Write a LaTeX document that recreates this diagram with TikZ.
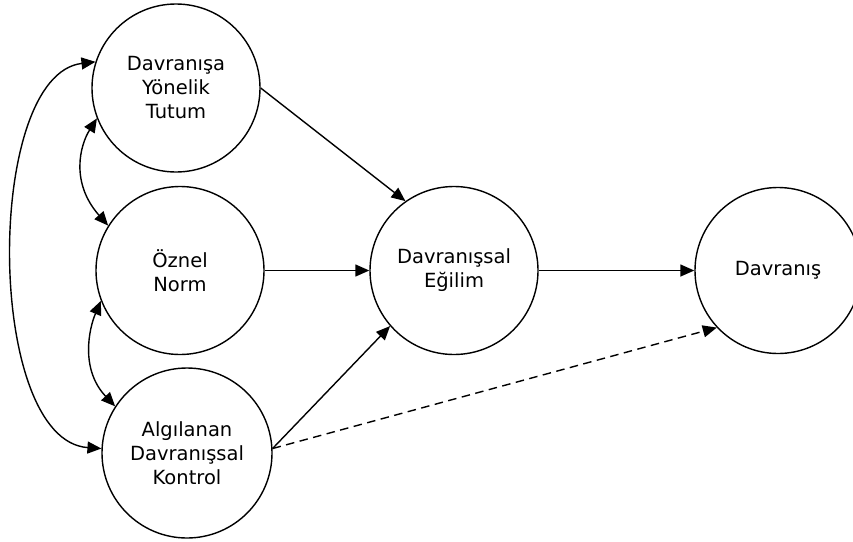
\documentclass[tikz,border=0pt]{standalone}
\usepackage{fontspec}
\setmainfont{DejaVu Sans}
\usetikzlibrary{arrows.meta}
\begin{document}
\begin{tikzpicture}[x=1pt,y=-1pt,
  construct/.style={circle,draw,line width=1.4pt,inner sep=0pt,minimum size=168pt,align=center,
    font=\fontsize{19.5}{24}\selectfont},
  conn/.style={line width=1.4pt,-{Triangle[length=14pt,width=12pt]}},
  bothconn/.style={line width=1.4pt,{Triangle[length=14pt,width=12pt]}-{Triangle[length=14pt,width=12pt]}},
  dashconn/.style={conn,dash pattern=on 8.5pt off 5.5pt}]
\useasboundingbox (0,0) rectangle (853,541);
\node[construct] (A) at (176,88) {Davranışa\\Yönelik\\Tutum};
\node[construct] (N) at (180,270.5) {Öznel\\Norm};
\node[construct,minimum size=170pt] (K) at (187,453) {Algılanan\\Davranışsal\\Kontrol};
\node[construct] (E) at (454,270.5) {Davranışsal\\Eğilim};
\node[construct,minimum size=166pt] (D) at (778,270.5) {Davranış};
\draw[conn] (A.east) -- (E.125);
\draw[conn] (N.east) -- (E.west);
\draw[conn] (K.3.5) -- (E.221);
\draw[conn] (E.east) -- (D.west);
\draw[dashconn] (K.3.5) -- (D.223);
\draw[bothconn] (A.162) .. controls +(-111.5,13) and +(-116.5,-8) .. (K.177);
\draw[bothconn] (A.201) .. controls +(-17,27) and +(-38,-43) .. (N.148);
\draw[bothconn] (N.201) .. controls +(-12,28) and +(-35,-37) .. (K.147);
\end{tikzpicture}
\end{document}
